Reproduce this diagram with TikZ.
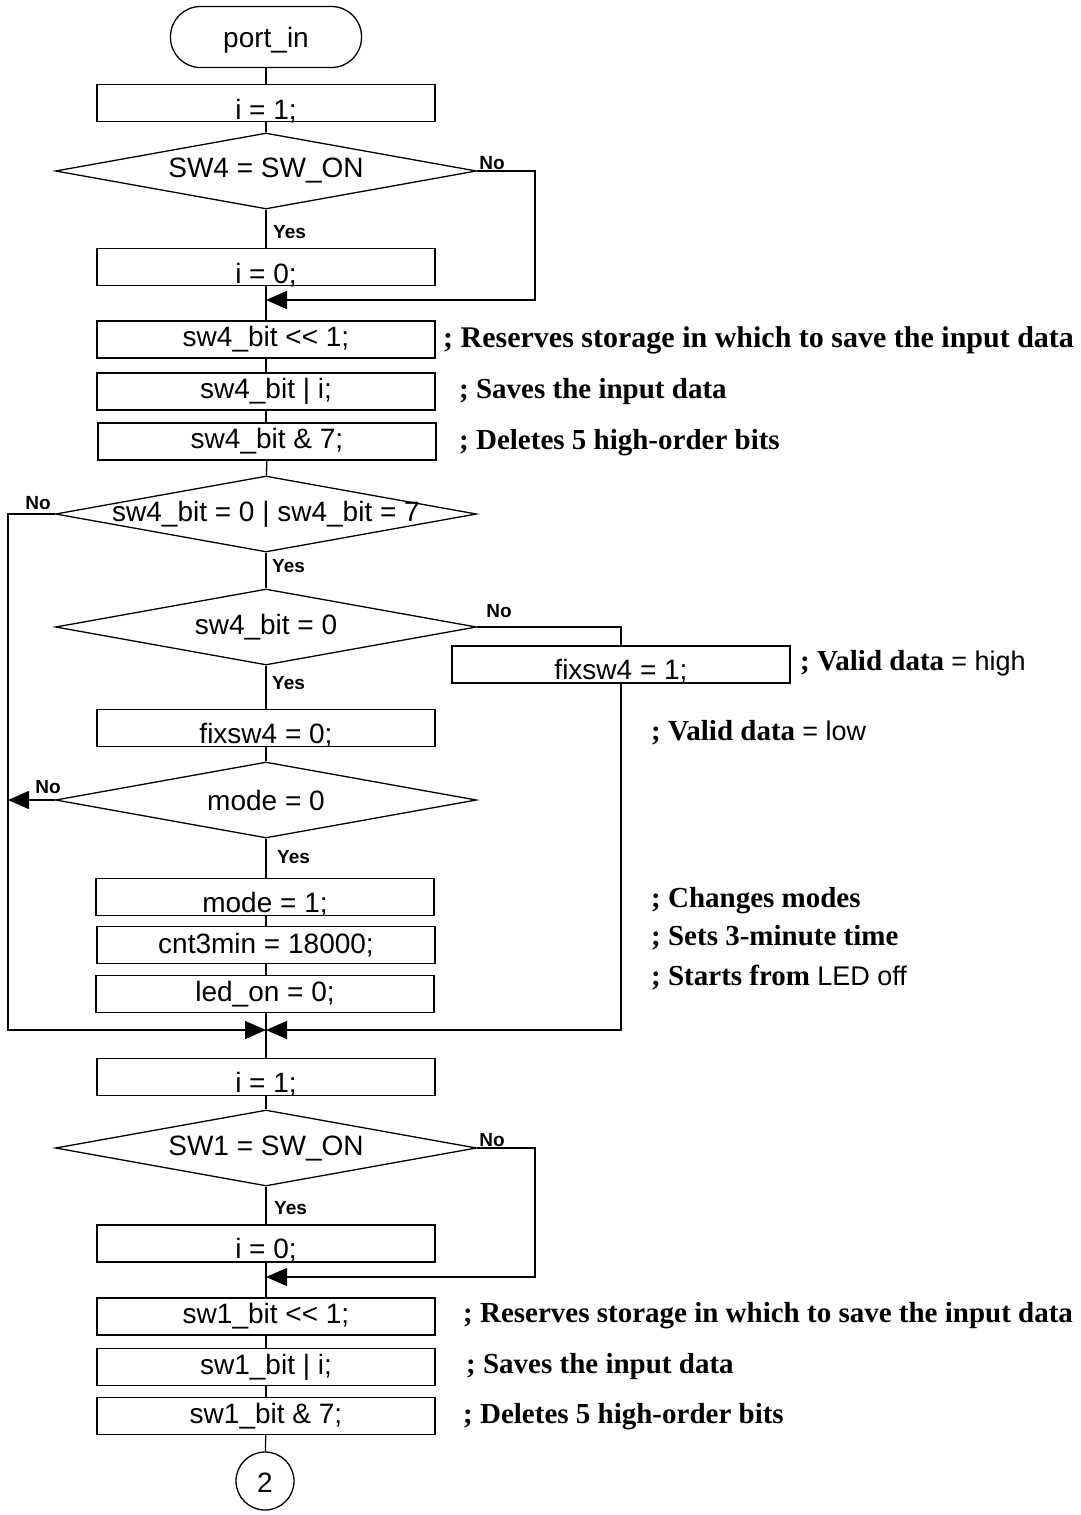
\documentclass[tikz,border=0pt]{standalone}
\usepackage{fontspec}
\setmainfont{Liberation Serif}
\setsansfont{Liberation Sans}
\usetikzlibrary{shapes.geometric,arrows.meta}
\tikzset{
  base/.style={line width=1.3pt},
  proc/.style={base,draw,rectangle,minimum width=338pt,minimum height=37pt,inner sep=0pt},
  dec/.style={base,draw,diamond,minimum width=421pt,minimum height=76pt,inner sep=0pt},
  term/.style={base,draw,rectangle,rounded corners=30pt,minimum width=191pt,minimum height=61pt,inner sep=0pt},
  conn/.style={base,draw,circle,minimum size=58pt,inner sep=0pt},
  txt/.style={font=\sffamily\fontsize{28}{32}\selectfont,inner sep=0pt},
  ann/.style={font=\bfseries\fontsize{29}{34}\selectfont,anchor=west,inner sep=0pt},
  annbig/.style={ann,font=\bfseries\fontsize{30}{34}\selectfont},
  yn/.style={font=\sffamily\bfseries\fontsize{19}{22}\selectfont,inner sep=0pt},
  line/.style={base},
  arr/.style={base,-{Triangle[length=21pt,width=18pt]}},
}
\newcommand{\sfx}[1]{{\mdseries\sffamily\fontsize{27}{32}\selectfont #1}}
\begin{document}
\begin{tikzpicture}[x=1pt,y=-1pt]
\useasboundingbox (0,0) rectangle (1080,1515);
% nodes
\node[term] (t0) at (266,37) {};
\node[txt] (t0t) at (266,40) {port\_in};
\node[proc] (b1) at (266,103) {};
\node[txt] (b1t) at (266,111) {i = 1;};
\node[dec] (d1) at (266,171) {};
\node[txt] (d1t) at (266,171) {SW4 = SW\_ON};
\node[proc] (b2) at (266,267) {};
\node[txt] (b2t) at (266,275) {i = 0;};
\node[proc] (b3) at (266,339.5) {};
\node[txt] (b3t) at (266,339.5) {sw4\_bit {\char`\<}{\char`\<} 1;};
\node[proc] (b4) at (266,391.5) {};
\node[txt] (b4t) at (266,391.5) {sw4\_bit | i;};
\node[proc] (b5) at (267,441.5) {};
\node[txt] (b5t) at (267,441.5) {sw4\_bit \& 7;};
\node[dec] (d2) at (266,514) {};
\node[txt] (d2t) at (266,514) {sw4\_bit = 0 | sw4\_bit = 7};
\node[dec] (d3) at (266,627) {};
\node[txt] (d3t) at (266,627) {sw4\_bit = 0};
\node[proc] (b6) at (621,664.5) {};
\node[txt] (b6t) at (621,671) {fixsw4 = 1;};
\node[proc] (b7) at (266,728) {};
\node[txt] (b7t) at (266,735) {fixsw4 = 0;};
\node[dec] (d4) at (266,800) {};
\node[txt] (d4t) at (266,800) {mode = 0};
\node[proc] (b8) at (265,897) {};
\node[txt] (b8t) at (265,904) {mode = 1;};
\node[proc] (b9) at (266,945) {};
\node[txt] (b9t) at (266,945) {cnt3min = 18000;};
\node[proc] (b10) at (265,994) {};
\node[txt] (b10t) at (265,994) {led\_on = 0;};
\node[proc] (b11) at (266,1077) {};
\node[txt] (b11t) at (266,1084) {i = 1;};
\node[dec] (d5) at (266,1148) {};
\node[txt] (d5t) at (266,1148) {SW1 = SW\_ON};
\node[proc] (b12) at (266,1243.5) {};
\node[txt] (b12t) at (266,1250) {i = 0;};
\node[proc] (b13) at (266,1316.5) {};
\node[txt] (b13t) at (266,1316.5) {sw1\_bit {\char`\<}{\char`\<} 1;};
\node[proc] (b14) at (266,1367) {};
\node[txt] (b14t) at (266,1367) {sw1\_bit | i;};
\node[proc] (b15) at (266,1416) {};
\node[txt] (b15t) at (266,1416) {sw1\_bit \& 7;};
\node[conn] (c2) at (265,1481) {};
\node[txt] (c2t) at (265,1483) {2};
% coordinates
\coordinate (r1) at (535,300);
\coordinate (j1) at (266,300);
\coordinate (l2) at (8,1030);
\coordinate (m) at (266,1030);
\coordinate (r3) at (621,1030);
\coordinate (l4) at (8,800);
\coordinate (r5) at (535,1277);
\coordinate (j5) at (266,1277);
% main connectors
\draw[line] (t0) -- (b1);
\draw[line] (b1) -- (d1);
\draw[line] (d1) -- (b2);
\draw[line] (b2) -- (b3);
\draw[line] (b3) -- (b4);
\draw[line] (b4) -- (b5.north -| b4);
\draw[line] (b5) -- (d2);
\draw[line] (d2) -- (d3);
\draw[line] (d3) -- (b7);
\draw[line] (b7) -- (d4);
\draw[line] (d4) -- (b8.north -| d4);
\draw[line] (b8.south -| b9) -- (b9);
\draw[line] (b9) -- (b10.north -| b9);
\draw[line] (b10.south -| m) -- (b11);
\draw[line] (b11) -- (d5);
\draw[line] (d5) -- (b12);
\draw[line] (b12) -- (b13);
\draw[line] (b13) -- (b14);
\draw[line] (b14) -- (b15);
\draw[line] (b15) -- (c2);
% branches
\draw[arr] (d1.east) -| (r1) -- (j1);
\draw[arr] (d2.west) -| (l2) -- (m);
\draw[line] (d3.east) -| (b6.north);
\draw[arr] (b6.south) -- (r3) -- (m);
\draw[arr] (d4.west) -- (l4);
\draw[arr] (d5.east) -| (r5) -- (j5);
% yes / no
\node[yn,anchor=west] (y1) at (273,232) {Yes};
\node[yn,anchor=west] (y2) at (272,566) {Yes};
\node[yn,anchor=west] (y3) at (272,683) {Yes};
\node[yn,anchor=west] (y4) at (277,857) {Yes};
\node[yn,anchor=west] (y5) at (274,1208) {Yes};
\node[yn] (n1) at (492,163) {No};
\node[yn] (n2) at (38,503) {No};
\node[yn] (n3) at (499,611) {No};
\node[yn] (n4) at (48,787) {No};
\node[yn] (n5) at (492,1140) {No};
% annotations
\node[annbig] (a1) at (443,340) {; Reserves storage in which to save the input data};
\node[ann] (a2) at (459,392) {; Saves the input data};
\node[ann] (a3) at (459,443) {; Deletes 5 high-order bits};
\node[ann] (a4) at (800,663) {; Valid data \sfx{= high}};
\node[ann] (a5) at (651,733) {; Valid data \sfx{= low}};
\node[ann] (a6) at (651,901) {; Changes modes};
\node[ann] (a7) at (651,938) {; Sets 3-minute time};
\node[ann] (a8) at (651,978) {; Starts from \sfx{LED off}};
\node[ann] (a9) at (463,1316) {; Reserves storage in which to save the input data};
\node[ann] (a10) at (466,1367) {; Saves the input data};
\node[ann] (a11) at (463,1417) {; Deletes 5 high-order bits};
\end{tikzpicture}
\end{document}
